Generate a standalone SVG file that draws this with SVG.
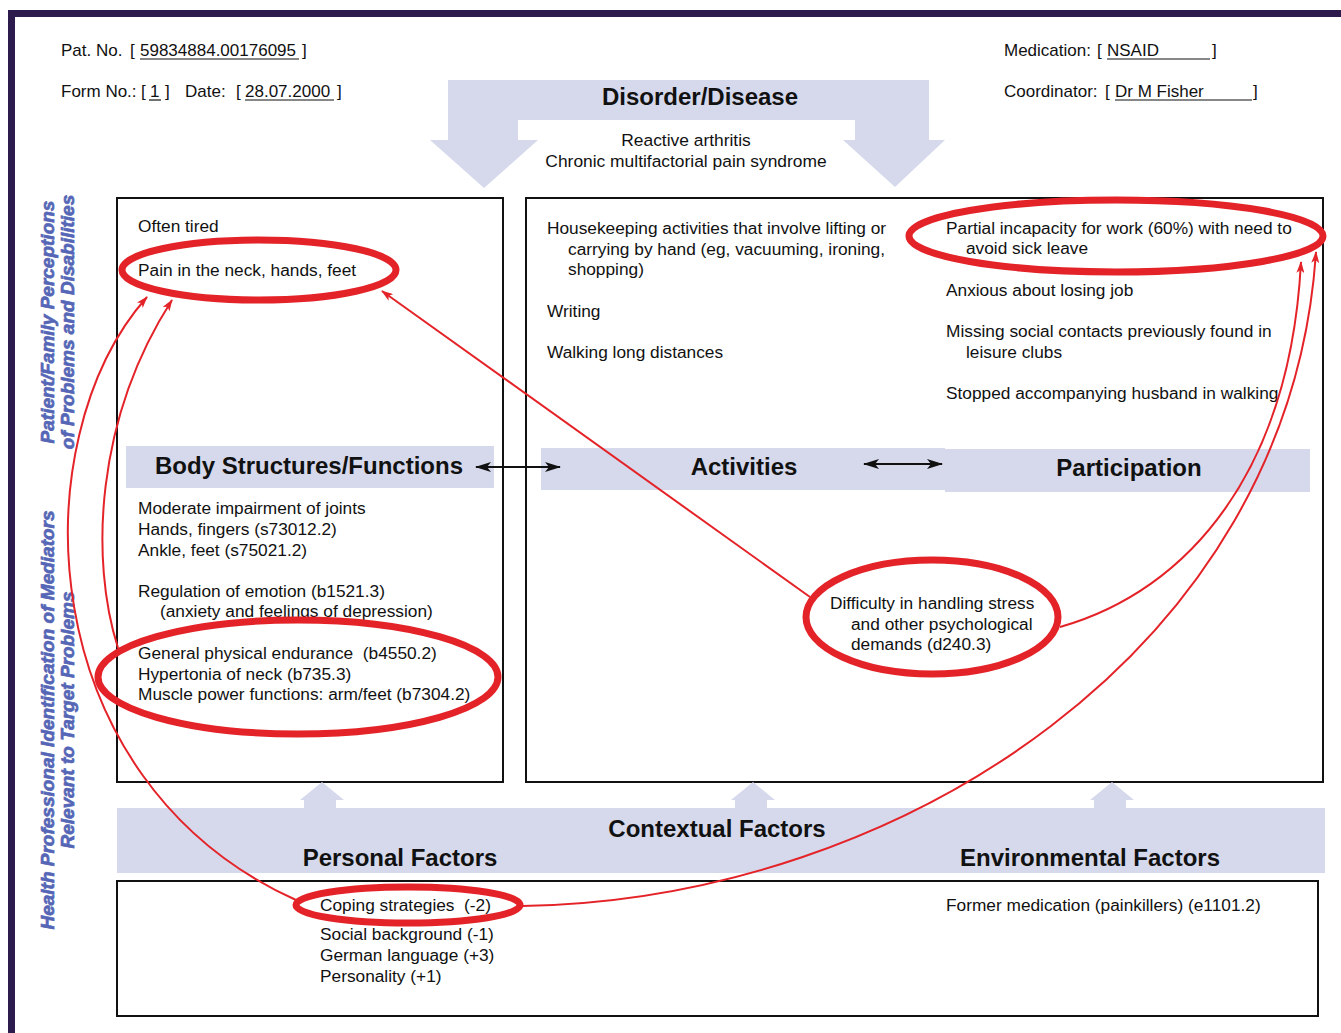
<svg xmlns="http://www.w3.org/2000/svg" width="1341" height="1033" viewBox="0 0 1341 1033">
<defs>
<style>
.t{font-family:"Liberation Sans",Arial,sans-serif;font-size:17.3px;fill:#111}
.h{font-family:"Liberation Sans",Arial,sans-serif;font-size:17px;fill:#111}
.m{font-family:"Liberation Sans",Arial,sans-serif;font-size:17.4px;fill:#111}
.b{font-family:"Liberation Sans",Arial,sans-serif;font-size:24px;font-weight:bold;fill:#111}
.v{font-family:"Liberation Sans",Arial,sans-serif;font-size:19px;font-weight:bold;font-style:italic;fill:#5666b6;stroke:#5666b6;stroke-width:0.7}
.band{fill:#d6d9ec}
.box{fill:#fff;stroke:#111;stroke-width:2}
.ring{fill:none;stroke:#e42329;stroke-width:7}
.red{fill:none;stroke:#e42329;stroke-width:2}
.blk{fill:none;stroke:#111;stroke-width:2}
.ul{stroke:#111;stroke-width:1.2}
</style>
<marker id="ra" viewBox="0 0 12 8" refX="11" refY="4" markerWidth="12" markerHeight="8" markerUnits="userSpaceOnUse" orient="auto">
<path d="M0,0 L12,4 L0,8 L3,4 Z" fill="#e42329"/>
</marker>
<marker id="ba" viewBox="0 0 16 10" refX="15" refY="5" markerWidth="16" markerHeight="10" markerUnits="userSpaceOnUse" orient="auto-start-reverse">
<path d="M0,0 L16,5 L0,10 L4,5 Z" fill="#111"/>
</marker>
</defs>
<rect width="1341" height="1033" fill="#fff"/>
<g id="frame">
<rect x="8" y="10" width="1333" height="7" fill="#2d1b4e"/>
<rect x="8" y="10" width="7" height="1023" fill="#2d1b4e"/>
</g>
<g id="header">
<text class="h" x="61" y="56">Pat. No.</text>
<text class="h" x="130" y="56">[</text>
<text class="h" x="140" y="56">59834884.00176095</text>
<line class="ul" x1="140" y1="59" x2="299" y2="59"/>
<text class="h" x="302" y="56">]</text>
<text class="h" x="61" y="97">Form No.:</text>
<text class="h" x="141" y="97">[</text>
<text class="h" x="150" y="97">1</text>
<line class="ul" x1="149" y1="100" x2="161" y2="100"/>
<text class="h" x="165" y="97">]</text>
<text class="h" x="185" y="97">Date:</text>
<text class="h" x="236" y="97">[</text>
<text class="h" x="245" y="97">28.07.2000</text>
<line class="ul" x1="245" y1="100" x2="334" y2="100"/>
<text class="h" x="337" y="97">]</text>
<text class="h" x="1004" y="56">Medication:</text>
<text class="h" x="1097" y="56">[</text>
<text class="h" x="1107" y="56">NSAID</text>
<line class="ul" x1="1107" y1="59" x2="1210" y2="59"/>
<text class="h" x="1212" y="56">]</text>
<text class="h" x="1004" y="97">Coordinator:</text>
<text class="h" x="1105" y="97">[</text>
<text class="h" x="1115" y="97">Dr M Fisher</text>
<line class="ul" x1="1115" y1="100" x2="1252" y2="100"/>
<text class="h" x="1253" y="97">]</text>
</g>
<g id="disorder">
<path class="band" d="M448,80 H929 V140 H945 L895,187 L843,140 H855 V120 H518 V140 H538 L484,188 L430,140 H448 Z"/>
<text class="b" x="700" y="105" text-anchor="middle">Disorder/Disease</text>
<text class="m" x="686" y="146" text-anchor="middle">Reactive arthritis</text>
<text class="m" x="686" y="167" text-anchor="middle">Chronic multifactorial pain syndrome</text>
</g>
<g id="side-labels">
<text class="v" transform="translate(54,322) rotate(-90)" text-anchor="middle">Patient/Family Perceptions</text>
<text class="v" transform="translate(74,322) rotate(-90)" text-anchor="middle">of Problems and Disabilities</text>
<text class="v" transform="translate(54,720) rotate(-90)" text-anchor="middle">Health Professional Identification of Mediators</text>
<text class="v" transform="translate(74,720) rotate(-90)" text-anchor="middle">Relevant to Target Problems</text>
</g>
<g id="body-box">
<rect class="box" x="117" y="198" width="386" height="584"/>
<rect class="band" x="126" y="446" width="368" height="42"/>
<text class="b" x="155" y="474">Body Structures/Functions</text>
<text class="t" x="138" y="232">Often tired</text>
<text class="t" x="138" y="276">Pain in the neck, hands, feet</text>
<text class="t" x="138" y="514">Moderate impairment of joints</text>
<text class="t" x="138" y="535">Hands, fingers (s73012.2)</text>
<text class="t" x="138" y="556">Ankle, feet (s75021.2)</text>
<text class="t" x="138" y="597">Regulation of emotion (b1521.3)</text>
<text class="t" x="160" y="617">(anxiety and feelings of depression)</text>
<text class="t" x="138" y="659">General physical endurance&#160; (b4550.2)</text>
<text class="t" x="138" y="680">Hypertonia of neck (b735.3)</text>
<text class="t" x="138" y="700">Muscle power functions: arm/feet (b7304.2)</text>
</g>
<g id="activity-box">
<rect class="box" x="526" y="198" width="797" height="584"/>
<rect class="band" x="541" y="448" width="404" height="42"/>
<rect class="band" x="945" y="449" width="365" height="43"/>
<text class="b" x="744" y="475" text-anchor="middle">Activities</text>
<text class="b" x="1129" y="476" text-anchor="middle">Participation</text>
<text class="t" x="547" y="234">Housekeeping activities that involve lifting or</text>
<text class="t" x="568" y="255">carrying by hand (eg, vacuuming, ironing,</text>
<text class="t" x="568" y="275">shopping)</text>
<text class="t" x="547" y="317">Writing</text>
<text class="t" x="547" y="358">Walking long distances</text>
<text class="t" x="946" y="234">Partial incapacity for work (60%) with need to</text>
<text class="t" x="966" y="254">avoid sick leave</text>
<text class="t" x="946" y="296">Anxious about losing job</text>
<text class="t" x="946" y="337">Missing social contacts previously found in</text>
<text class="t" x="966" y="358">leisure clubs</text>
<text class="t" x="946" y="399">Stopped accompanying husband in walking</text>
<text class="t" x="830" y="609">Difficulty in handling stress</text>
<text class="t" x="851" y="630">and other psychological</text>
<text class="t" x="851" y="650">demands (d240.3)</text>
</g>
<g id="contextual">
<rect class="band" x="117" y="808" width="1208" height="65"/>
<path class="band" d="M304,808 V800 H300 L322,782 L344,800 H336 V808 Z"/>
<path class="band" d="M735,808 V800 H731 L753,782 L775,800 H767 V808 Z"/>
<path class="band" d="M1094,808 V800 H1090 L1112,782 L1134,800 H1126 V808 Z"/>
<text class="b" x="717" y="837" text-anchor="middle">Contextual Factors</text>
<text class="b" x="400" y="866" text-anchor="middle">Personal Factors</text>
<text class="b" x="1090" y="866" text-anchor="middle">Environmental Factors</text>
</g>
<g id="factors-box">
<rect class="box" x="117" y="881" width="1201" height="135"/>
<text class="t" x="320" y="911">Coping strategies&#160; (-2)</text>
<text class="t" x="320" y="940">Social background (-1)</text>
<text class="t" x="320" y="961">German language (+3)</text>
<text class="t" x="320" y="982">Personality (+1)</text>
<text class="t" x="946" y="911">Former medication (painkillers) (e1101.2)</text>
</g>
<g id="highlights">
<ellipse id="ring-pain" class="ring" cx="259" cy="270" rx="137" ry="30"/>
<ellipse id="ring-endurance" class="ring" cx="298" cy="677" rx="200" ry="57"/>
<ellipse id="ring-work" class="ring" cx="1116" cy="236" rx="207" ry="36"/>
<ellipse id="ring-stress" class="ring" cx="932" cy="617" rx="126" ry="57"/>
<ellipse id="ring-coping" class="ring" cx="408" cy="905" rx="112" ry="18"/>
</g>
<g id="connectors">
<line class="blk" x1="476" y1="467" x2="560" y2="467" marker-start="url(#ba)" marker-end="url(#ba)"/>
<line class="blk" x1="864" y1="464" x2="942" y2="464" marker-start="url(#ba)" marker-end="url(#ba)"/>
<line class="red" x1="810" y1="597" x2="382" y2="291" marker-end="url(#ra)"/>
<path class="red" d="M1060,627 C1190,590 1290,470 1301,262" marker-end="url(#ra)"/>
<path class="red" d="M522,906 C900,900 1290,650 1316,252" marker-end="url(#ra)"/>
<path class="red" d="M296,900 C30,780 20,440 147,297" marker-end="url(#ra)"/>
<path class="red" d="M118,648 C90,560 95,420 172,300" marker-end="url(#ra)"/>
</g>
</svg>
